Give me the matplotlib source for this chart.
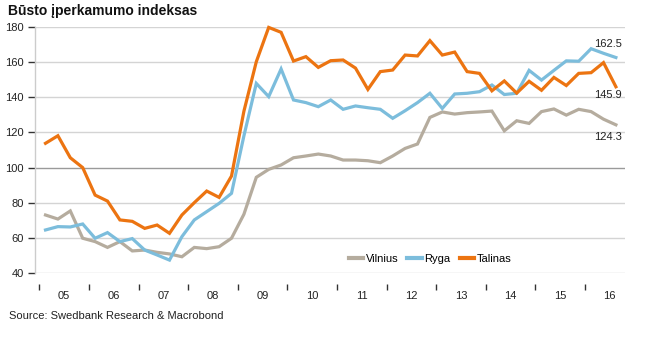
import matplotlib
matplotlib.use("Agg")
import matplotlib.pyplot as plt
from matplotlib.ticker import FixedLocator, NullFormatter, FixedFormatter

plt.rcParams['font.family'] = ['Liberation Sans', 'DejaVu Sans']

# quarterly data 2005Q1 .. 2016Q3
years = list(range(2005, 2017))
year_labels = ["05", "06", "07", "08", "09", "10", "11", "12", "13", "14", "15", "16"]
quarters = [(y, q) for y in years for q in range(1, 5)][:47]

vilnius = [73.1, 70.8, 75.4, 59.9, 58.0, 54.7, 58.0, 52.7, 53.2, 51.9, 51.0, 49.4,
           54.7, 54.0, 55.1, 59.9, 73.5, 94.5, 99.0, 101.5, 105.6, 106.6, 107.7, 106.6,
           104.3, 104.3, 103.9, 102.8, 106.6, 110.9, 113.4, 128.5, 131.6, 130.4, 131.2, 131.6,
           132.1, 120.9, 126.6, 125.1, 131.8, 133.3, 129.8, 133.1, 131.8, 127.5, 124.3]
ryga = [64.6, 66.5, 66.3, 68.0, 59.9, 63.1, 58.0, 59.7, 53.2, 50.4, 47.5, 60.8,
        70.3, 75.0, 79.7, 85.4, 118.0, 147.8, 140.3, 156.0, 138.4, 136.9, 134.6, 138.4,
        133.1, 135.0, 134.0, 133.1, 128.0, 132.3, 136.9, 142.2, 133.6, 141.8, 142.2, 143.1,
        146.9, 141.5, 142.2, 155.2, 149.7, 155.2, 160.6, 160.4, 167.5, 164.9, 162.5]
talinas = [113.8, 118.1, 105.6, 100.0, 84.4, 81.0, 70.3, 69.5, 65.5, 67.4, 62.7, 73.1,
           80.1, 86.7, 83.1, 95.2, 132.0, 160.1, 179.6, 176.8, 160.5, 163.0, 156.9, 160.7,
           161.1, 156.5, 144.4, 154.5, 155.4, 163.9, 163.4, 172.1, 163.9, 165.6, 154.5, 153.5,
           143.6, 149.2, 142.3, 149.0, 143.9, 151.2, 146.6, 153.5, 153.9, 159.6, 145.9]

series_names = ["Vilnius", "Ryga", "Talinas"]
colors = ["#B5AC9E", "#7CBDDC", "#EC7411"]
yticks = [40, 60, 80, 100, 120, 140, 160, 180]

x = [y + (q - 0.5) / 4 for (y, q) in quarters]

FS = 8
W, H = 645, 338
fig = plt.figure(figsize=(W / 100, H / 100), dpi=100)
left, right, top, bottom = 35, 625, 26.7, 273.3
ax = fig.add_axes([left / W, 1 - bottom / H, (right - left) / W, (bottom - top) / H])

x0 = 2005 - 4.3 / 49.6
x1 = 2005 + (625 - 39.3) / 49.6
ax.set_xlim(x0, x1)
ax.set_ylim(40, 180)

# grid
for v in yticks:
    c = "#9a9a9a" if v == 100 else "#d4d4d4"
    ax.axhline(v, color=c, lw=1.0, zorder=0)

for vals, name, col in zip([vilnius, ryga, talinas], series_names, colors):
    ax.plot(x, vals, color=col, lw=2.3, label=name, solid_joinstyle='miter', clip_on=False, zorder=3)

# end labels
ax.annotate(f"{ryga[-1]:.1f}", (x[-1], ryga[-1]), xytext=(6, 14), textcoords='offset pixels',
            ha='right', va='center', fontsize=FS, color="#222222")
ax.annotate(f"{talinas[-1]:.1f}", (x[-1], talinas[-1]), xytext=(6, -8), textcoords='offset pixels',
            ha='right', va='center', fontsize=FS, color="#222222")
ax.annotate(f"{vilnius[-1]:.1f}", (x[-1], vilnius[-1]), xytext=(6, -12), textcoords='offset pixels',
            ha='right', va='center', fontsize=FS, color="#222222")

# spines
for s in ["top", "right"]:
    ax.spines[s].set_visible(False)
ax.spines["left"].set_color("#cccccc")
ax.spines["left"].set_linewidth(1.0)
ax.spines["bottom"].set_visible(False)
ax.spines["bottom"].set_position(("outward", 8))

ax.set_yticks(yticks)
ax.set_yticklabels([str(v) for v in yticks])
ax.tick_params(axis='y', length=5, width=1, color="#333333", labelsize=FS, labelcolor="#222222", pad=3)

ax.xaxis.set_major_locator(FixedLocator(years))
ax.xaxis.set_major_formatter(NullFormatter())
ax.xaxis.set_minor_locator(FixedLocator([y + 0.5 for y in years]))
ax.xaxis.set_minor_formatter(FixedFormatter(year_labels))
ax.tick_params(axis='x', which='major', length=4, width=1, color="#333333", direction='out')
ax.tick_params(axis='x', which='minor', length=0, labelsize=FS, labelcolor="#222222", pad=5)

leg = ax.legend(loc='center', bbox_to_anchor=((430 - left) / (right - left), (bottom - 259) / (bottom - top)),
                ncol=3, frameon=False, fontsize=FS, handlelength=1.3, handletextpad=0.25,
                columnspacing=0.8, borderpad=0)
for line in leg.get_lines():
    line.set_linewidth(3)

fig.text(8 / W, 1 - 11 / H, "Būsto įperkamumo indeksas", fontsize=10, fontweight='bold',
         va='center', ha='left', color="#111111")
fig.text(9 / W, 1 - 316 / H, "Source: Swedbank Research & Macrobond", fontsize=8,
         va='center', ha='left', color="#222222")

fig.savefig("out.png", dpi=100)
